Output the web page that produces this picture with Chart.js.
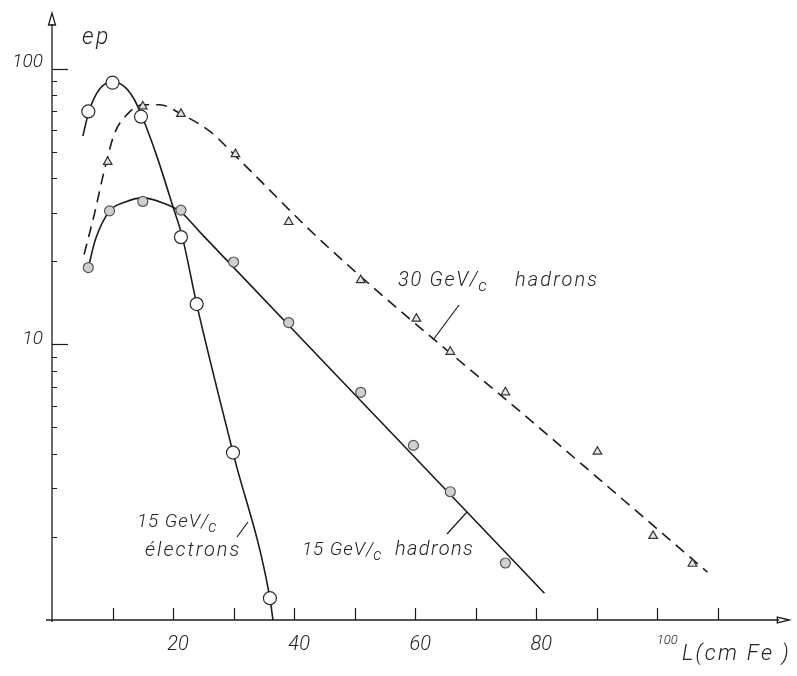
<!DOCTYPE html>
<html lang="en">

<head>
    <meta charset="UTF-8">
    <title>ep vs L</title>
    <style>
        body { margin: 0; background: #fff; }
        canvas { display: block; }
    </style>
</head>

<body>
    <canvas id="chart" width="797" height="676"></canvas>

    <script src="https://cdn.jsdelivr.net/npm/chart.js"></script>

    <script>
        const elecX = [6, 10, 14.7, 21.3, 23.9, 29.9, 36];
        const elecY = [70, 89, 67, 24.5, 14, 4.05, 1.2];

        const had15X = [6, 9.5, 15, 21.3, 30, 39.1, 51, 59.7, 65.8, 74.9];
        const had15Y = [19, 30.5, 33, 30.7, 19.9, 12, 6.7, 4.3, 2.92, 1.61];

        const had30X = [9.2, 15, 21.3, 30.3, 39.1, 51, 60.2, 65.8, 74.9, 90.1, 99.3, 105.8];
        const had30Y = [45.9, 73, 68.6, 49, 27.8, 17.1, 12.4, 9.4, 6.7, 4.08, 2.02, 1.6];

        // hand drawn curves through the points
        const elecCurveX = [5.1, 6.1, 7.9, 10.1, 12, 13.5, 14.9, 17.3, 20, 21.5, 23.9, 29.9, 36, 36.5];
        const elecCurveY = [57, 70, 84.6, 89.7, 86, 78, 67, 48.3, 31.5, 24.7, 14, 4.05, 1.2, 1.0];

        const had15CurveX = [6, 7.2, 9.5, 12, 15, 18.3, 21.3, 24.4, 57.4, 81.35];
        const had15CurveY = [19, 24.1, 30.5, 32.8, 34, 32.6, 30.2, 25.6, 4.45, 1.25];

        const had30CurveX = [5.3, 7, 8.7, 10.3, 12.5, 15, 17.8, 21.3, 26.2, 30.3, 44.7, 82.2, 108.3];
        const had30CurveY = [21.2, 29.7, 43.3, 58, 68.6, 74, 74, 68.6, 59, 48.3, 23.5, 4.63, 1.49];

        // axis ticks
        const xTicks = [10, 20, 30, 40, 50, 60, 70, 80, 90, 100, 110];
        const xLabels = [20, 40, 60, 80, 100];
        const yMajor = [10, 100];
        const yMinor = [2, 3, 4, 5, 6, 7, 8, 9, 20, 30, 40, 50, 60, 70, 80, 90];

        const ink = '#1c1c1c';
        const font = 'Roboto, "Liberation Sans", sans-serif';

        const pts = (xs, ys) => xs.map((x, i) => ({ x: x, y: ys[i] }));

        function drawText(ctx, txt, x, y, size, align, spacing) {
            ctx.font = `italic 300 ${size}px ${font}`;
            ctx.letterSpacing = (spacing || 0) + 'px';
            ctx.textAlign = align || 'left';
            ctx.textBaseline = 'middle';
            ctx.fillText(txt, x, y);
            const w = ctx.measureText(txt).width;
            ctx.letterSpacing = '0px';
            return w;
        }

        // "15 GeV/" followed by a lowered small c
        function drawGeV(ctx, txt, x, y, size, spacing) {
            const w = drawText(ctx, txt, x, y, size, 'left', spacing);
            drawText(ctx, 'c', x + w - 1, y + 6, size * 0.85);
        }

        const axesPlugin = {
            id: 'axes',
            afterDraw(chart) {
                const ctx = chart.ctx;
                const xs = chart.scales.x;
                const ys = chart.scales.y;
                const a = chart.chartArea;
                const x0 = a.left, y0 = a.bottom;

                ctx.save();
                ctx.strokeStyle = ink;
                ctx.fillStyle = ink;
                ctx.lineWidth = 1.3;

                // y axis with arrow
                ctx.beginPath();
                ctx.moveTo(x0, y0 + 2);
                ctx.lineTo(x0, a.top + 10);
                ctx.stroke();
                ctx.beginPath();
                ctx.moveTo(x0, a.top - 1);
                ctx.lineTo(x0 - 3.5, a.top + 11);
                ctx.lineTo(x0 + 3.5, a.top + 11);
                ctx.closePath();
                ctx.stroke();

                // x axis with arrow
                ctx.beginPath();
                ctx.moveTo(x0 - 6, y0);
                ctx.lineTo(a.right - 10, y0);
                ctx.stroke();
                ctx.beginPath();
                ctx.moveTo(a.right, y0);
                ctx.lineTo(a.right - 12, y0 - 3);
                ctx.lineTo(a.right - 12, y0 + 3);
                ctx.closePath();
                ctx.stroke();

                // x ticks point up into the plot
                ctx.lineWidth = 1.2;
                xTicks.forEach(v => {
                    const px = Math.round(xs.getPixelForValue(v)) + 0.5;
                    ctx.beginPath();
                    ctx.moveTo(px, y0);
                    ctx.lineTo(px, y0 - 12);
                    ctx.stroke();
                });

                // y ticks point right
                yMajor.forEach(v => {
                    const py = Math.round(ys.getPixelForValue(v)) + 0.5;
                    ctx.beginPath();
                    ctx.moveTo(x0, py);
                    ctx.lineTo(x0 + 16, py);
                    ctx.stroke();
                });
                ctx.lineWidth = 1;
                yMinor.forEach(v => {
                    const py = Math.round(ys.getPixelForValue(v)) + 0.5;
                    ctx.beginPath();
                    ctx.moveTo(x0, py);
                    ctx.lineTo(x0 + 5, py);
                    ctx.stroke();
                });

                // tick labels
                ctx.fillStyle = '#222';
                xLabels.forEach(v => {
                    const px = xs.getPixelForValue(v);
                    if (v === 100)
                        drawText(ctx, String(v), px + 10, y0 + 21, 13, 'center');
                    else
                        drawText(ctx, String(v), px + 5, y0 + 25, 20, 'center');
                });
                yMajor.forEach(v => {
                    drawText(ctx, String(v), x0 - 9, ys.getPixelForValue(v) - (v === 100 ? 7 : 5), 19, 'right');
                });

                // axis titles
                drawText(ctx, 'ep', 82, 38, 23, 'left', 2.5);
                drawText(ctx, 'L(cm Fe )', 682, 654, 22, 'left', 2.3);

                // curve labels
                drawGeV(ctx, '30 GeV/', 398, 281, 20, 1.7);
                drawText(ctx, 'hadrons', 515, 281, 20, 'left', 2.1);
                drawGeV(ctx, '15 GeV/', 137, 522, 19, 0.9);
                drawText(ctx, 'électrons', 145, 551, 20, 'left', 2);
                drawGeV(ctx, '15 GeV/', 302, 550, 19, 0.9);
                drawText(ctx, 'hadrons', 395, 550, 20, 'left', 1.4);

                // leader lines
                ctx.lineWidth = 1.2;
                [[459, 305, 433, 340], [248, 522, 237, 537], [467, 512, 447, 534]].forEach(l => {
                    ctx.beginPath();
                    ctx.moveTo(l[0], l[1]);
                    ctx.lineTo(l[2], l[3]);
                    ctx.stroke();
                });

                ctx.restore();
            }
        };

        new Chart(document.getElementById('chart'), {
            type: 'line',
            data: {
                datasets: [{
                    label: 'electrons pts',
                    type: 'scatter',
                    data: pts(elecX, elecY),
                    pointStyle: 'circle',
                    pointRadius: 6.5,
                    backgroundColor: '#fff',
                    borderColor: '#2a2a2a',
                    borderWidth: 1.2,
                    order: 0
                }, {
                    label: 'hadrons 15 pts',
                    type: 'scatter',
                    data: pts(had15X, had15Y),
                    pointStyle: 'circle',
                    pointRadius: 5,
                    backgroundColor: '#cfcfcf',
                    borderColor: '#555',
                    borderWidth: 1.2,
                    order: 0
                }, {
                    label: 'hadrons 30 pts',
                    type: 'scatter',
                    data: pts(had30X, had30Y),
                    pointStyle: 'triangle',
                    pointRadius: 5,
                    backgroundColor: '#e4e4e4',
                    borderColor: '#333',
                    borderWidth: 1.2,
                    order: 0
                }, {
                    label: 'electrons',
                    data: pts(elecCurveX, elecCurveY),
                    borderColor: ink,
                    borderWidth: 1.6,
                    pointRadius: 0,
                    cubicInterpolationMode: 'monotone',
                    order: 1
                }, {
                    label: 'hadrons 15',
                    data: pts(had15CurveX, had15CurveY),
                    borderColor: ink,
                    borderWidth: 1.6,
                    pointRadius: 0,
                    cubicInterpolationMode: 'monotone',
                    order: 1
                }, {
                    label: 'hadrons 30',
                    data: pts(had30CurveX, had30CurveY),
                    borderColor: ink,
                    borderWidth: 1.6,
                    borderDash: [11, 7],
                    pointRadius: 0,
                    cubicInterpolationMode: 'monotone',
                    order: 1
                }]
            },
            options: {
                responsive: false,
                animation: false,
                events: [],
                layout: {
                    padding: { left: 52, right: 7, top: 14, bottom: 56 }
                },
                scales: {
                    x: { type: 'linear', min: 0, max: 121.8, display: false },
                    y: { type: 'logarithmic', min: 1, max: 158, display: false }
                },
                plugins: {
                    legend: { display: false },
                    tooltip: { enabled: false }
                }
            },
            plugins: [axesPlugin]
        });
    </script>
</body>

</html>
